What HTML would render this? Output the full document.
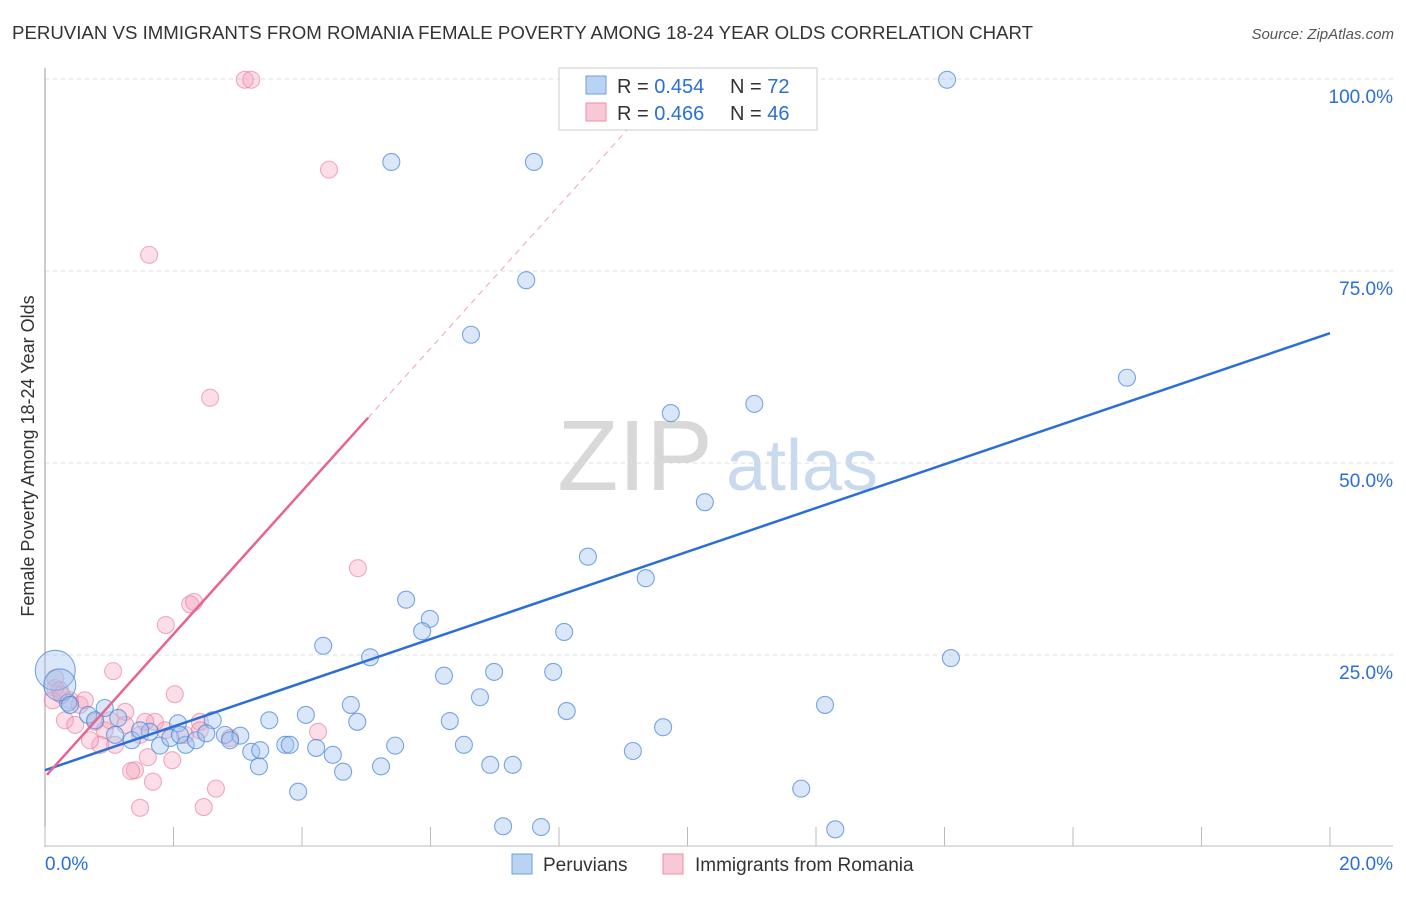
<!DOCTYPE html>
<html><head><meta charset="utf-8"><style>
body{margin:0;background:#fff;font-family:"Liberation Sans",sans-serif;}
svg text{font-family:"Liberation Sans",sans-serif;}
</style></head><body>
<svg id="chart" width="1406" height="892" xmlns="http://www.w3.org/2000/svg">
<text x="12" y="39" font-size="18" fill="#333" textLength="1021" lengthAdjust="spacingAndGlyphs">PERUVIAN VS IMMIGRANTS FROM ROMANIA FEMALE POVERTY AMONG 18-24 YEAR OLDS CORRELATION CHART</text>
<text x="1394" y="39" font-size="15" fill="#555" text-anchor="end" font-style="italic">Source: ZipAtlas.com</text>
<text transform="translate(34,456) rotate(-90)" font-size="18" fill="#333" text-anchor="middle">Female Poverty Among 18-24 Year Olds</text>
<g>
<text x="635" y="490" font-size="100" fill="#d8d8d8" font-family="Liberation Serif" text-anchor="middle">ZIP</text>
<text x="802" y="490" font-size="72" fill="#c9d9ee" text-anchor="middle">atlas</text>
</g>
<g id="grid"></g><g id="axes"></g><g id="pts"></g><g id="lines"></g>
<g>
<rect x="559" y="68" width="258" height="62" fill="#fff" stroke="#ccc"/>
<rect x="586" y="76" width="20" height="18" fill="#b9d3f3" stroke="#6a9fe0"/>
<rect x="586" y="103" width="20" height="18" fill="#f9c8d6" stroke="#ec8ea8"/>
<text x="617" y="93" font-size="20" fill="#333">R = <tspan fill="#2a6fd6">0.454</tspan></text>
<text x="730" y="93" font-size="20" fill="#333">N = <tspan fill="#2a6fd6">72</tspan></text>
<text x="617" y="120" font-size="20" fill="#333">R = <tspan fill="#2a6fd6">0.466</tspan></text>
<text x="730" y="120" font-size="20" fill="#333">N = <tspan fill="#2a6fd6">46</tspan></text>
</g>
<g>
<rect x="512" y="854" width="20" height="20" fill="#b9d3f3" stroke="#6a9fe0"/>
<text x="543" y="871" font-size="19" fill="#333">Peruvians</text>
<rect x="663" y="854" width="20" height="20" fill="#f9c8d6" stroke="#ec8ea8"/>
<text x="695" y="871" font-size="19" fill="#333">Immigrants from Romania</text>
</g>
</svg>
<script>
const xTicks=[0,2,4,6,8,10,12,14,16,18,20];
const yTicks=[25,50,75,100];
const blueX=[14.04,5.39,7.61,7.49,6.63,16.84,9.74,11.04,10.27,8.45,9.35,5.62,5.99,5.87,8.08,4.33,5.06,14.10,6.21,6.99,7.91,6.77,4.76,12.14,8.12,4.06,2.61,3.49,4.86,6.30,2.07,9.62,0.93,0.36,0.67,1.14,1.63,1.35,1.79,2.19,2.35,2.51,2.80,3.04,1.95,3.74,4.22,3.21,5.45,6.52,9.15,4.48,3.33,5.23,6.93,7.28,4.64,3.94,11.77,7.13,7.72,12.30,0.16,0.23,0.39,0.78,1.09,1.48,2.10,2.88,3.81,3.35];
const blueY=[99.9,89.2,89.2,73.8,66.7,61.1,56.5,57.7,44.9,37.8,35.0,32.2,29.7,28.1,28.0,26.2,24.7,24.6,22.3,22.8,22.8,19.5,18.5,18.5,17.7,17.2,16.5,16.5,16.3,16.4,16.1,15.6,18.1,18.8,17.2,16.8,15.0,13.9,13.2,13.3,13.9,14.8,14.6,14.5,14.2,13.3,12.9,12.4,13.2,13.3,12.5,12.0,10.5,10.5,10.7,10.7,9.8,7.2,7.6,2.7,2.6,2.3,23.0,21.1,18.5,16.5,14.6,15.2,14.6,13.9,13.3,12.6];
const blueR={62:20,63:16};
const pinkX=[3.11,3.21,4.42,1.62,2.57,4.87,2.26,2.32,1.88,1.06,2.02,0.16,0.12,0.39,0.54,0.31,0.47,0.78,0.93,1.25,1.25,1.48,1.71,1.56,1.87,2.18,2.41,1.09,0.86,2.88,4.25,1.60,1.98,1.40,1.34,1.68,2.66,1.48,2.47,0.16,0.23,0.62,1.01,0.26,0.70,2.41];
const pinkY=[99.9,99.9,88.2,77.1,58.5,36.3,31.6,31.9,28.9,22.9,19.9,20.7,19.1,19.1,18.5,16.5,15.9,16.3,15.2,17.6,15.9,14.6,16.3,16.3,15.2,14.6,16.3,13.3,13.3,14.2,15.0,11.7,11.3,10.0,9.9,8.5,7.6,5.1,5.2,22.0,20.4,19.1,16.5,19.8,13.9,15.2];
const blueTrend=[[0,10.0],[20,66.9]];
const pinkTrend=[[0.03,9.4],[5.03,55.9]];
const NS="http://www.w3.org/2000/svg";
const sx=v=>45+v*64.25, sy=v=>847-v*7.68;
function mk(t,a,p){const e=document.createElementNS(NS,t);for(const k in a)e.setAttribute(k,a[k]);p.appendChild(e);return e;}
const grid=document.getElementById('grid'),axes=document.getElementById('axes'),pts=document.getElementById('pts'),lines=document.getElementById('lines');
yTicks.forEach(v=>{
const l=mk('line',{x1:45,x2:1393,y1:sy(v),y2:sy(v),stroke:'#ddd','stroke-dasharray':'4,4'},grid);


const t=mk('text',{x:1393,y:sy(v)+24,'font-size':19,fill:'#2a6fd6','text-anchor':'end'},axes);
t.textContent=v.toFixed(1)+'%';


});
const ax=mk('line',{x1:45,x2:45,y1:68,y2:847,stroke:'#999'},axes);


const bx=mk('line',{x1:45,x2:1393,y1:846,y2:846,stroke:'#bbb'},axes);


xTicks.forEach(v=>{
const l=mk('line',{x1:sx(v),x2:sx(v),y1:827,y2:846,stroke:'#bbb'},axes);


});
[[0,'start'],[20,'end']].forEach(([v,a])=>{
const t=mk('text',{x:v==0?45:1393,y:870,'font-size':19,fill:'#2a6fd6','text-anchor':a},axes);
t.textContent=v.toFixed(1)+'%';


});
pinkX.forEach((x,i)=>{
const c=mk('circle',{cx:sx(x),cy:sy(pinkY[i]),r:8.5,fill:'rgba(244,160,185,0.35)',stroke:'rgba(233,120,155,0.6)','stroke-width':1.1},pts);


});
blueX.forEach((x,i)=>{
const c=mk('circle',{cx:sx(x),cy:sy(blueY[i]),r:blueR[i]||8.5,fill:'rgba(160,195,240,0.4)',stroke:'rgba(70,130,215,0.7)','stroke-width':1.1},pts);


});
const bl=mk('line',{x1:sx(blueTrend[0][0]),y1:sy(blueTrend[0][1]),x2:sx(blueTrend[1][0]),y2:sy(blueTrend[1][1]),stroke:'#2a6fd6','stroke-width':2.5},lines);


const slope=(pinkTrend[1][1]-pinkTrend[0][1])/(pinkTrend[1][0]-pinkTrend[0][0]);
const xEnd=pinkTrend[0][0]+(100-pinkTrend[0][1])/slope;
const pd=mk('line',{x1:sx(pinkTrend[1][0]),y1:sy(pinkTrend[1][1]),x2:sx(xEnd),y2:sy(100),stroke:'#f0a0b8','stroke-width':1,'stroke-dasharray':'6,5'},lines);


const pl=mk('line',{x1:sx(pinkTrend[0][0]),y1:sy(pinkTrend[0][1]),x2:sx(pinkTrend[1][0]),y2:sy(pinkTrend[1][1]),stroke:'#e8648e','stroke-width':2.5},lines);


</script>
</body></html>
